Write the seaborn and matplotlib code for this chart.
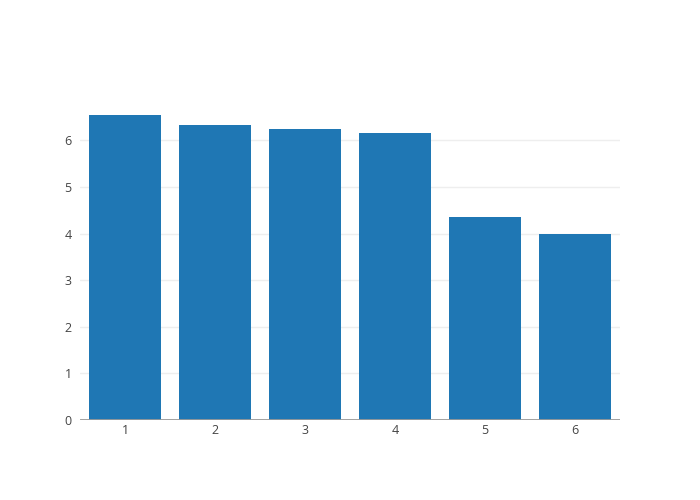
import matplotlib
matplotlib.use("Agg")
import matplotlib.pyplot as plt
import seaborn as sns

# values
categories = ["1", "2", "3", "4", "5", "6"]
values = [6.54, 6.33, 6.25, 6.15, 4.36, 4.0]
y_ticks = [0, 1, 2, 3, 4, 5, 6]

sns.set_style("white")
plt.rcParams['font.family'] = ['Open Sans', 'DejaVu Sans']

fig = plt.figure(figsize=(7, 5), dpi=100)
ax = fig.add_axes([80 / 700, 80 / 500, 540 / 700, 320 / 500])

sns.barplot(x=categories, y=values, color='#1f77b4', saturation=1,
            width=0.8, linewidth=0, ax=ax, zorder=2)

ax.set_xlim(-0.5, 5.5)
ax.set_ylim(0, max(values) * 1.05)
ax.set_yticks(y_ticks)
ax.yaxis.grid(True, color='#eeeeee', linewidth=1, zorder=0)
ax.set_axisbelow(True)
ax.axhline(0, color='#999999', linewidth=2, zorder=3)

for s in ax.spines.values():
    s.set_visible(False)

ax.tick_params(axis='both', length=0, labelsize=9, colors='#444444')
ax.tick_params(axis='y', pad=6)
ax.tick_params(axis='x', pad=3)
ax.set_xlabel('')
ax.set_ylabel('')

fig.savefig('out.png', dpi=100)
